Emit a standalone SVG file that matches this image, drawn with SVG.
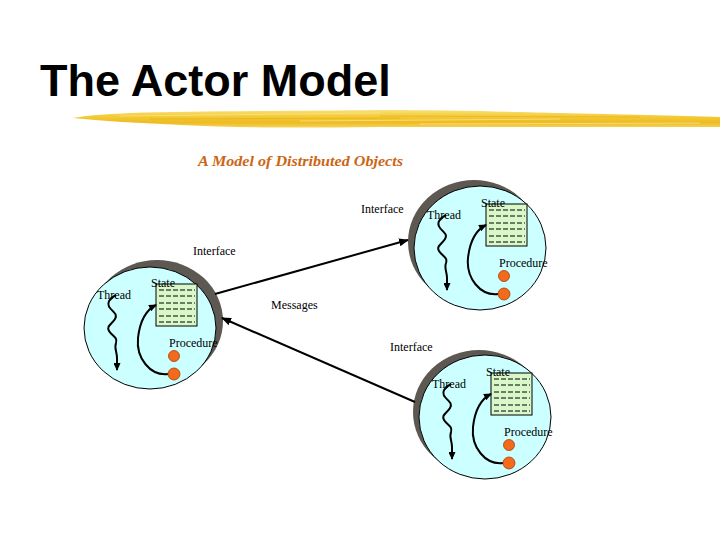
<svg xmlns="http://www.w3.org/2000/svg" width="720" height="540" viewBox="0 0 720 540">
<defs>
<style>
.lbl{font-family:"Liberation Serif","Times New Roman",serif;font-size:12px;fill:#000}
.rim{fill:#5E5852}
.body{fill:#CCFFFF;stroke:#000;stroke-width:1}
.box{fill:#D9F7C8;stroke:#000;stroke-width:1}
.dash{stroke:#000;stroke-width:1;stroke-dasharray:5 2}
.wave{fill:none;stroke:#000;stroke-width:2}
.dot{fill:#F26A1B;stroke:#A83C08;stroke-width:0.8}
.conn{fill:none;stroke:#000;stroke-width:2}
</style>
<marker id="ah" markerWidth="10" markerHeight="8" refX="9" refY="4" orient="auto" markerUnits="userSpaceOnUse">
<path d="M0,0 L10,4 L0,8 z" fill="#000"/>
</marker>
<marker id="ahs" markerWidth="8" markerHeight="7" refX="7" refY="3.5" orient="auto" markerUnits="userSpaceOnUse">
<path d="M0,0 L8,3.5 L0,7 z" fill="#000"/>
</marker>
<linearGradient id="brush" x1="0" y1="0" x2="0" y2="1">
<stop offset="0" stop-color="#F9E07A"/>
<stop offset="0.35" stop-color="#F4CC3A"/>
<stop offset="0.7" stop-color="#EEBB22"/>
<stop offset="1" stop-color="#F5D35A"/>
</linearGradient>
<g id="actor-inner">
<rect class="box" x="6" y="-44" width="41" height="42"/>
<line class="dash" x1="9" y1="-38" x2="45" y2="-38"/>
<line class="dash" x1="9" y1="-32" x2="45" y2="-32"/>
<line class="dash" x1="9" y1="-25" x2="45" y2="-25"/>
<line class="dash" x1="9" y1="-19" x2="45" y2="-19"/>
<line class="dash" x1="9" y1="-12" x2="45" y2="-12"/>
<line class="dash" x1="9" y1="-6" x2="45" y2="-6"/>
<text class="lbl" x="1" y="-41">State</text>
<text class="lbl" x="-53" y="-29">Thread</text>
<path class="wave" marker-end="url(#ahs)" d="M -34,-33 C -40,-30 -44,-25 -40,-20 C -37,-16 -32,-14 -35,-9 C -38,-4 -44,-2 -41,3 C -38,8 -32,9 -34,15 C -36,20 -33,24 -33,30 L -33,42"/>
<path class="wave" marker-end="url(#ahs)" d="M 18,46 C 0,48 -14,30 -12,10 C -10,-8 -4,-18 6,-23"/>
<text class="lbl" x="19" y="19">Procedure</text>
<circle class="dot" cx="24" cy="28" r="5.5"/>
<circle class="dot" cx="24" cy="46" r="6"/>
</g>
</defs>
<rect width="720" height="540" fill="#fff"/>
<text x="40" y="96" font-family="'Liberation Sans',Arial,sans-serif" font-weight="bold" font-size="45" fill="#000">The Actor Model</text>
<g id="brush-stroke">
<path d="M73,118 C90,115 110,114 130,113 C200,111 300,111 380,110 C450,110 520,112 560,113 C620,114 680,116 720,117 L720,127 C680,127 620,127 560,127 C500,127 440,127 380,127 C300,128 240,128 180,125 C140,123 100,121 73,118 z" fill="url(#brush)"/>
<path d="M120,116 L380,113 M300,121 L560,119 M420,124 L700,123" stroke="#FBE590" stroke-width="1" opacity="0.7" fill="none"/>
<path d="M150,119 L400,118 M380,116 L640,117" stroke="#E6AE18" stroke-width="1" opacity="0.6" fill="none"/>
</g>
<text x="198" y="166" font-family="'Liberation Serif','Times New Roman',serif" font-style="italic" font-weight="bold" font-size="15" fill="#CC6614" textLength="205" lengthAdjust="spacingAndGlyphs">A Model of Distributed Objects</text>
<g id="actor-left">
<ellipse class="rim" cx="157" cy="321" rx="66" ry="61"/>
<ellipse class="body" cx="150" cy="328" rx="66" ry="61"/>
<use href="#actor-inner" transform="translate(150,328)"/>
</g>
<g id="actor-top-right">
<ellipse class="rim" cx="474" cy="242" rx="66" ry="62"/>
<ellipse class="body" cx="480" cy="248" rx="66" ry="62"/>
<use href="#actor-inner" transform="translate(480,248)"/>
</g>
<g id="actor-bottom-right">
<ellipse class="rim" cx="479" cy="412" rx="66" ry="62"/>
<ellipse class="body" cx="485" cy="417" rx="66" ry="62"/>
<use href="#actor-inner" transform="translate(485,417)"/>
</g>
<g id="connectors">
<line class="conn" x1="215" y1="294" x2="408" y2="240" marker-end="url(#ah)"/>
<line class="conn" x1="415" y1="402" x2="222" y2="318" marker-end="url(#ah)"/>
</g>
<g id="labels">
<text class="lbl" x="193" y="255">Interface</text>
<text class="lbl" x="361" y="213">Interface</text>
<text class="lbl" x="271" y="309">Messages</text>
<text class="lbl" x="390" y="351">Interface</text>
</g>
</svg>
